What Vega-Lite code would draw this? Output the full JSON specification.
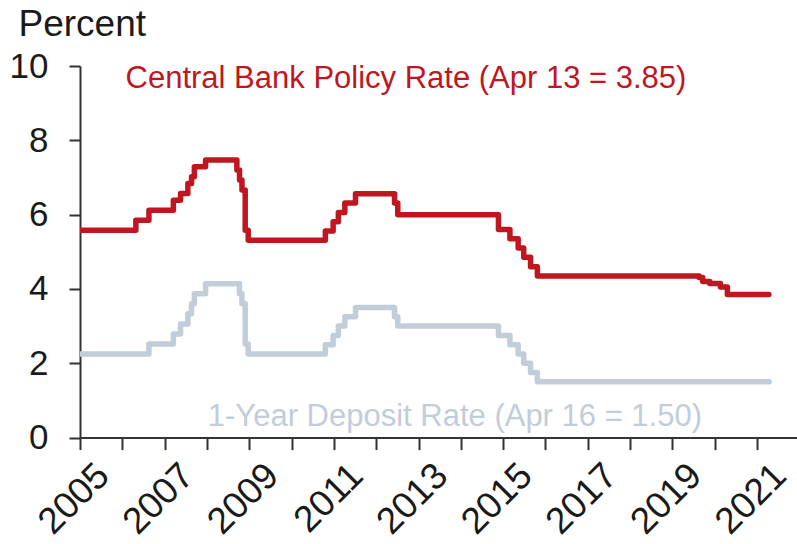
{
  "$schema": "https://vega.github.io/schema/vega-lite/v6.json",
  "width": 717,
  "height": 371.6,
  "autosize": {"type": "none"},
  "padding": {"left": 80, "top": 66, "right": 0, "bottom": 106.4},
  "config": {"view": {"stroke": null}, "font": "Liberation Sans"},
  "datasets": {
    "rates": [
      {"date": "2005-01-01", "series": "policy", "rate": 5.58},
      {"date": "2006-04-28", "series": "policy", "rate": 5.85},
      {"date": "2006-08-19", "series": "policy", "rate": 6.12},
      {"date": "2007-03-18", "series": "policy", "rate": 6.39},
      {"date": "2007-05-19", "series": "policy", "rate": 6.57},
      {"date": "2007-07-21", "series": "policy", "rate": 6.84},
      {"date": "2007-08-22", "series": "policy", "rate": 7.02},
      {"date": "2007-09-15", "series": "policy", "rate": 7.29},
      {"date": "2007-12-21", "series": "policy", "rate": 7.47},
      {"date": "2008-09-16", "series": "policy", "rate": 7.20},
      {"date": "2008-10-09", "series": "policy", "rate": 6.93},
      {"date": "2008-10-30", "series": "policy", "rate": 6.66},
      {"date": "2008-11-27", "series": "policy", "rate": 5.58},
      {"date": "2008-12-23", "series": "policy", "rate": 5.31},
      {"date": "2010-10-20", "series": "policy", "rate": 5.56},
      {"date": "2010-12-26", "series": "policy", "rate": 5.81},
      {"date": "2011-02-09", "series": "policy", "rate": 6.06},
      {"date": "2011-04-06", "series": "policy", "rate": 6.31},
      {"date": "2011-07-07", "series": "policy", "rate": 6.56},
      {"date": "2012-06-08", "series": "policy", "rate": 6.31},
      {"date": "2012-07-06", "series": "policy", "rate": 6.00},
      {"date": "2014-11-22", "series": "policy", "rate": 5.60},
      {"date": "2015-03-01", "series": "policy", "rate": 5.35},
      {"date": "2015-05-11", "series": "policy", "rate": 5.10},
      {"date": "2015-06-28", "series": "policy", "rate": 4.85},
      {"date": "2015-08-26", "series": "policy", "rate": 4.60},
      {"date": "2015-10-24", "series": "policy", "rate": 4.35},
      {"date": "2019-08-20", "series": "policy", "rate": 4.31},
      {"date": "2019-09-20", "series": "policy", "rate": 4.20},
      {"date": "2019-11-20", "series": "policy", "rate": 4.15},
      {"date": "2020-02-20", "series": "policy", "rate": 4.05},
      {"date": "2020-04-20", "series": "policy", "rate": 3.85},
      {"date": "2021-04-13", "series": "policy", "rate": 3.85},
      {"date": "2005-01-01", "series": "deposit", "rate": 2.25},
      {"date": "2006-08-19", "series": "deposit", "rate": 2.52},
      {"date": "2007-03-18", "series": "deposit", "rate": 2.79},
      {"date": "2007-05-19", "series": "deposit", "rate": 3.06},
      {"date": "2007-07-21", "series": "deposit", "rate": 3.33},
      {"date": "2007-08-22", "series": "deposit", "rate": 3.60},
      {"date": "2007-09-15", "series": "deposit", "rate": 3.87},
      {"date": "2007-12-21", "series": "deposit", "rate": 4.14},
      {"date": "2008-10-09", "series": "deposit", "rate": 3.87},
      {"date": "2008-10-30", "series": "deposit", "rate": 3.60},
      {"date": "2008-11-27", "series": "deposit", "rate": 2.52},
      {"date": "2008-12-23", "series": "deposit", "rate": 2.25},
      {"date": "2010-10-20", "series": "deposit", "rate": 2.50},
      {"date": "2010-12-26", "series": "deposit", "rate": 2.75},
      {"date": "2011-02-09", "series": "deposit", "rate": 3.00},
      {"date": "2011-04-06", "series": "deposit", "rate": 3.25},
      {"date": "2011-07-07", "series": "deposit", "rate": 3.50},
      {"date": "2012-06-08", "series": "deposit", "rate": 3.25},
      {"date": "2012-07-06", "series": "deposit", "rate": 3.00},
      {"date": "2014-11-22", "series": "deposit", "rate": 2.75},
      {"date": "2015-03-01", "series": "deposit", "rate": 2.50},
      {"date": "2015-05-11", "series": "deposit", "rate": 2.25},
      {"date": "2015-06-28", "series": "deposit", "rate": 2.00},
      {"date": "2015-08-26", "series": "deposit", "rate": 1.75},
      {"date": "2015-10-24", "series": "deposit", "rate": 1.50},
      {"date": "2021-04-16", "series": "deposit", "rate": 1.50}
    ],
    "labels": [
      {"date": "2012-09-15", "series": "policy", "rate": 9.4, "label": "Central Bank Policy Rate (Apr 13 = 3.85)"},
      {"date": "2013-11-11", "series": "deposit", "rate": 0.3, "label": "1-Year Deposit Rate (Apr 16 = 1.50)"}
    ]
  },
  "encoding": {
    "x": {
      "field": "date",
      "type": "temporal",
      "scale": {"type": "utc", "domain": [{"year": 2005, "month": 1, "date": 1, "utc": true}, {"year": 2021, "month": 12, "date": 12, "utc": true}]},
      "axis": {
        "title": null,
        "grid": false,
        "tickCount": {"interval": "year", "step": 1},
        "labelExpr": "utcyear(datum.value) % 2 == 1 ? utcFormat(datum.value, '%Y') : ''",
        "labelOverlap": false,
        "labelFlush": false,
        "labelAngle": -45,
        "labelAlign": "right",
        "labelBaseline": "middle",
        "labelFontSize": 37,
        "labelColor": "#1a1a1a",
        "labelPadding": 20,
        "labelOffset": 23,
        "domainColor": "#333333",
        "domainWidth": 2,
        "tickColor": "#333333",
        "tickWidth": 2,
        "tickSize": 12
      }
    },
    "y": {
      "field": "rate",
      "type": "quantitative",
      "scale": {"domain": [0, 10], "nice": false, "zero": true},
      "axis": {
        "values": [0, 2, 4, 6, 8, 10],
        "grid": false,
        "title": "Percent",
        "titleAngle": 0,
        "titleFontSize": 37,
        "titleFontWeight": "normal",
        "titleColor": "#1a1a1a",
        "titleAlign": "left",
        "titleBaseline": "alphabetic",
        "titleX": -62,
        "titleY": -31,
        "labelFontSize": 35,
        "labelColor": "#1a1a1a",
        "labelPadding": 21,
        "domainColor": "#333333",
        "domainWidth": 2,
        "tickColor": "#333333",
        "tickWidth": 2,
        "tickSize": 11
      }
    },
    "color": {
      "field": "series",
      "type": "nominal",
      "scale": {"domain": ["policy", "deposit"], "range": ["#C0161F", "#C1CDD9"]},
      "legend": null
    }
  },
  "layer": [
    {
      "data": {"name": "rates"},
      "mark": {"type": "line", "interpolate": "step-after", "strokeWidth": 5.5, "strokeCap": "round", "strokeJoin": "round", "clip": true}
    },
    {
      "data": {"name": "labels"},
      "mark": {"type": "text", "align": "center", "baseline": "alphabetic", "fontSize": 31},
      "encoding": {"text": {"field": "label"}}
    }
  ]
}
